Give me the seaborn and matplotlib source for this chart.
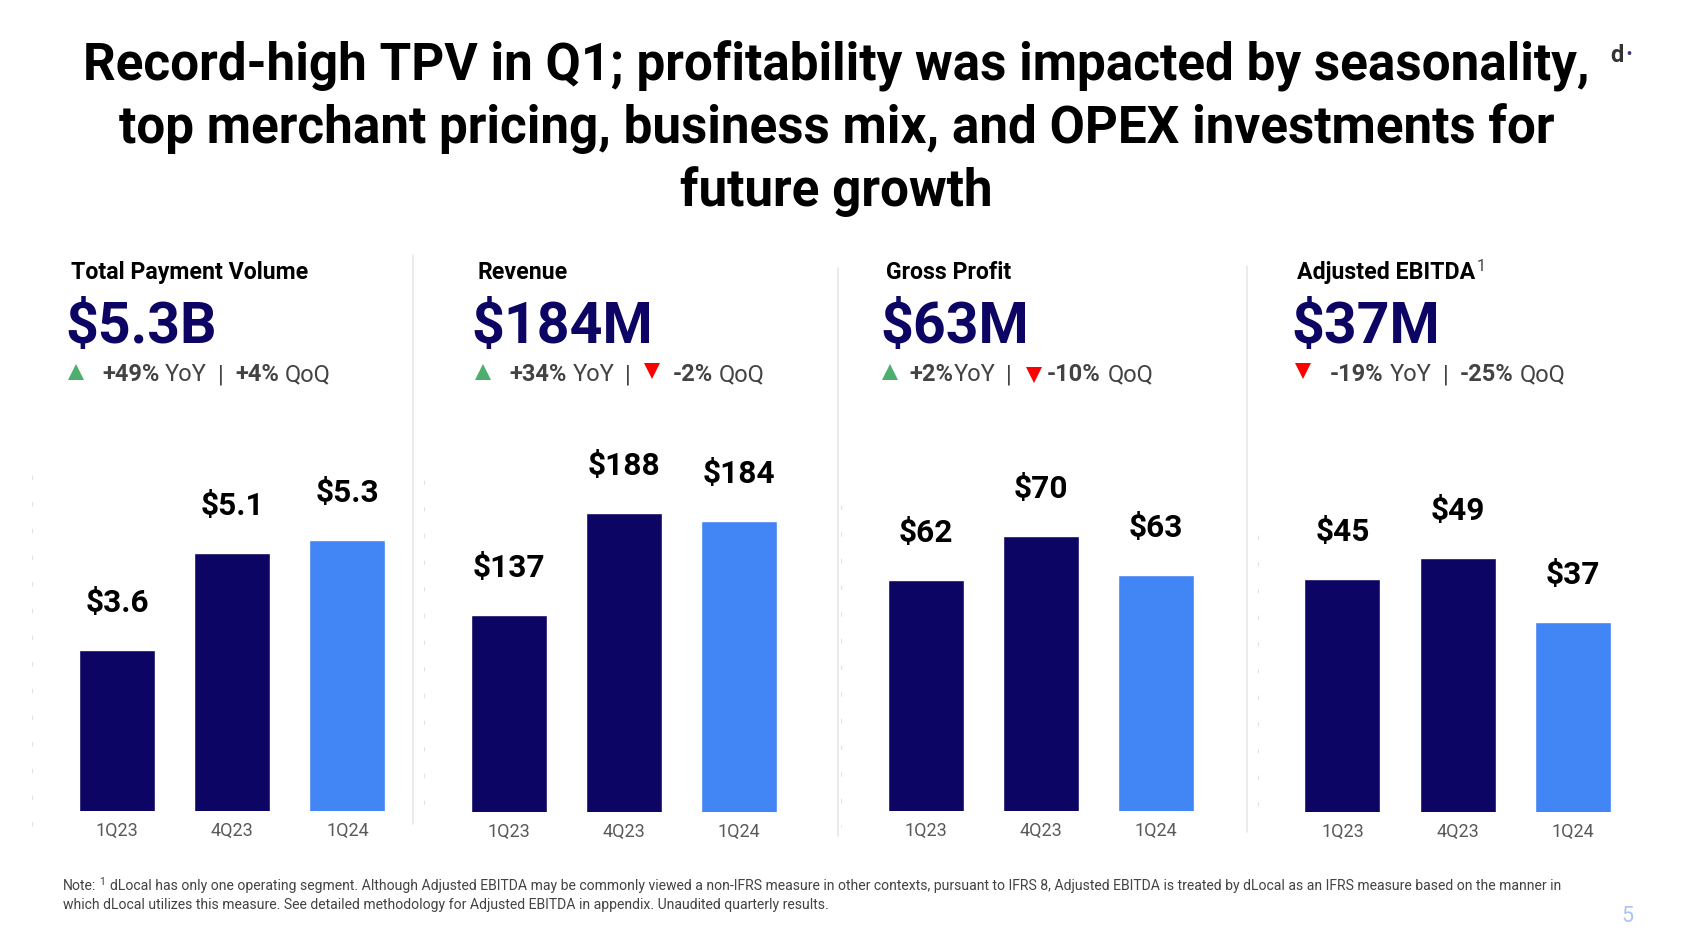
import matplotlib
matplotlib.use("Agg")
import matplotlib.pyplot as plt
from matplotlib.lines import Line2D
import pandas as pd
import seaborn as sns

W, H = 1684, 942
S = 1684 / 1568  # layout measured on a 1568-wide view

quarters = ["1Q23", "4Q23", "1Q24"]
tpv = [3.6, 5.1, 5.3]
revenue = [137, 188, 184]
gross_profit = [62, 70, 63]
ebitda = [45, 49, 37]
tpv_labels = ["$3.6", "$5.1", "$5.3"]
revenue_labels = ["$137", "$188", "$184"]
gp_labels = ["$62", "$70", "$63"]
ebitda_labels = ["$45", "$49", "$37"]
panel_titles = ["Total Payment Volume", "Revenue", "Gross Profit", "Adjusted EBITDA"]
headlines = ["$5.3B", "$184M", "$63M", "$37M"]

title_lines = [
    "Record-high TPV in Q1; profitability was impacted by seasonality,",
    "top merchant pricing, business mix, and OPEX investments for",
    "future growth",
]
note_lines = [
    "dLocal has only one operating segment. Although Adjusted EBITDA may be commonly viewed a non-IFRS measure in other contexts, pursuant to IFRS 8, Adjusted EBITDA is treated by dLocal as an IFRS measure based on the manner in",
    "which dLocal utilizes this measure. See detailed methodology for Adjusted EBITDA in appendix. Unaudited quarterly results.",
]

NAVY = "#0D0563"
BLUE = "#4285F4"
GREEN = "#4CAF6E"
RED = "#FF0000"
GREY = "#434343"
TICK = "#595959"

sns.set_theme(style="white")
plt.rcParams["font.family"] = ["Roboto", "DejaVu Sans"]

fig = plt.figure(figsize=(W / 100, H / 100), dpi=100, facecolor="white")


def fx(x):
    return x * S / W


def fy(y):
    return 1 - y * S / H


def txt(x, y, s, size, weight="normal", color="black", ha="left"):
    return fig.text(fx(x), fy(y + 2), s, fontsize=size, fontweight=weight, color=color,
                    ha=ha, va="center")


def tri(x, y, up):
    fig.add_artist(Line2D([fx(x)], [fy(y)], transform=fig.transFigure,
                          marker="^" if up else "v", markersize=12,
                          color=GREEN if up else RED, markeredgewidth=0, linestyle="none"))


for line, y in zip(title_lines, [60, 118, 176]):
    txt(779, y, line, 36.9, "bold", "black", "center")

panels = [
    (109, 216, 323.5, 755, tpv, tpv_labels, 60.0, 1.10),
    (473.5, 580.5, 688, 756, revenue, revenue_labels, 1.86, 38.5),
    (862, 969, 1076, 755, gross_profit, gp_labels, 5.1, 19.9),
    (1250, 1357, 1464.5, 756, ebitda, ebitda_labels, 5.0, 1.7),
]
for (c0, c1, c2, base, vals, labs, k, v0) in panels:
    step = (c2 - c0) / 2
    left = c0 - step / 2
    top = 395
    ax = fig.add_axes([fx(left), fy(base), fx(step * 3), (base - top) * S / H])
    df = pd.DataFrame({"quarter": quarters, "value": vals})
    sns.barplot(data=df, x="quarter", y="value", hue="quarter",
                palette=[NAVY, NAVY, BLUE], width=0.66, legend=False, ax=ax, saturation=1)
    ax.set_ylim(v0, v0 + (base - top) / k)
    ax.set_xlim(-0.5, 2.5)
    ax.set_xlabel("")
    ax.set_ylabel("")
    ax.set_yticks([])
    ax.tick_params(axis="x", length=0, pad=8, labelsize=13, labelcolor=TICK)
    ax.patch.set_alpha(0)
    sns.despine(ax=ax, left=True, bottom=True)
    for i, (v, lab) in enumerate(zip(vals, labs)):
        ax.annotate(lab, (i, v), xytext=(0, 47), textcoords="offset pixels",
                    ha="center", va="center", fontsize=22.8, fontweight="bold", color="black")

# panel headers
for x, s in zip([66, 445, 825, 1208], panel_titles):
    txt(x, 252, s, 16.7, "bold", "black")
txt(1375, 246, "1", 11.5, "normal", "#434343")
for x, s in zip([60.5, 438.5, 819.5, 1202.5], headlines):
    txt(x, 303, s, 41.2, "bold", NAVY)

# change rows
row = 347
RS = 17
tri(71, 346, True)
txt(95, row, "+49%", RS, "bold", GREY); txt(153, row, "YoY", RS, "normal", GREY)
txt(203, row, "|", RS, "normal", GREY)
txt(219, row, "+4%", RS, "bold", GREY); txt(265, row, "QoQ", RS, "normal", GREY)

tri(450, 346, True)
txt(474, row, "+34%", RS, "bold", GREY); txt(533, row, "YoY", RS, "normal", GREY)
txt(582, row, "|", RS, "normal", GREY)
tri(607, 345, False)
txt(626, row, "-2%", RS, "bold", GREY); txt(669, row, "QoQ", RS, "normal", GREY)

tri(829, 346, True)
txt(847, row, "+2%", RS, "bold", GREY); txt(888, row, "YoY", RS, "normal", GREY)
txt(937, row, "|", RS, "normal", GREY)
tri(963, 349, False)
txt(975, row, "-10%", RS, "bold", GREY); txt(1031, row, "QoQ", RS, "normal", GREY)

tri(1213, 345, False)
txt(1238, row, "-19%", RS, "bold", GREY); txt(1294, row, "YoY", RS, "normal", GREY)
txt(1344, row, "|", RS, "normal", GREY)
txt(1359, row, "-25%", RS, "bold", GREY); txt(1415, row, "QoQ", RS, "normal", GREY)

# dividers
for x, y0, y1 in [(385, 237, 767), (780, 250, 778), (1161, 248, 775)]:
    fig.add_artist(Line2D([fx(x)] * 2, [fy(y0), fy(y1)], transform=fig.transFigure,
                          color="#E8E8E8", linewidth=1.2))

# faint leftover axis specks beside each panel
for x, y0, y1 in [(30, 442, 780), (395, 447, 768), (783, 470, 770), (1171, 498, 770)]:
    fig.add_artist(Line2D([fx(x)] * 2, [fy(y0), fy(y1)], transform=fig.transFigure,
                          color="#E2E2E2", linewidth=0.8, dashes=(4, 20)))

# footnote
txt(59, 823, "Note:", 10.1, "normal", GREY)
txt(92.5, 819.5, "1", 7.5, "normal", GREY)
txt(102, 823, note_lines[0], 10.1, "normal", GREY)
txt(59, 841, note_lines[1], 10.1, "normal", GREY)
txt(1510, 851, "5", 15.5, "normal", "#A9C4F5")

# logo
txt(1499, 50, "d", 17, "bold", "#333333")
txt(1513, 49, "·", 17, "bold", "#3A3A7A")

fig.savefig("out.png", dpi=100, facecolor="white")
